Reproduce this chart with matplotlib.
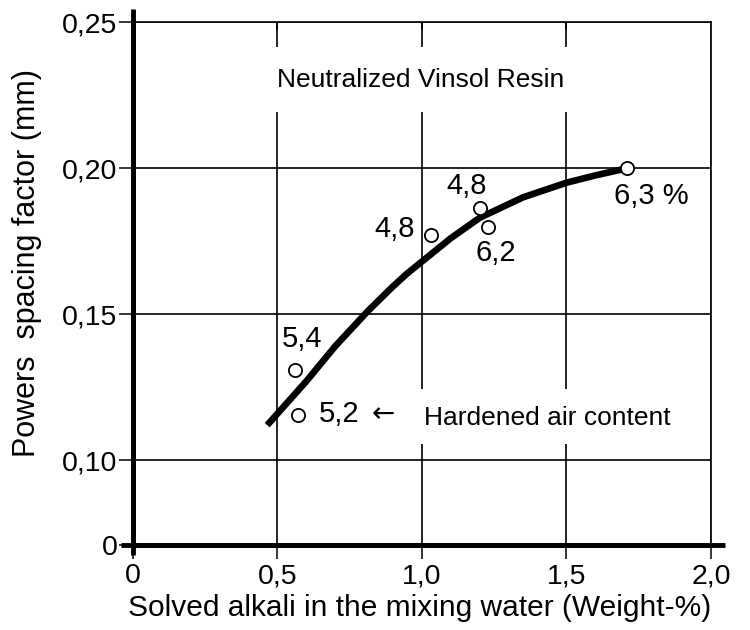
import numpy as np
import matplotlib
matplotlib.use("Agg")
import matplotlib.pyplot as plt

plt.rcParams['font.family'] = ['Liberation Sans', 'DejaVu Sans']

# fitted trend line
curve_x = [0.465, 0.60, 0.70, 0.8125, 0.90, 0.95, 1.00, 1.10, 1.20, 1.35, 1.50, 1.60, 1.69]
curve_y = [0.112, 0.127, 0.139, 0.151, 0.1595, 0.164, 0.1680, 0.1760, 0.1830, 0.1900, 0.1950, 0.1975, 0.1995]

# measured points and their hardened air content (%)
point_x = [0.56, 0.57, 1.03, 1.20, 1.23, 1.71]
point_y = [0.131, 0.1155, 0.177, 0.1865, 0.180, 0.200]
point_labels = ["5,4", "5,2", "4,8", "4,8", "6,2", "6,3 %"]
label_x = [0.587, 0.715, 0.905, 1.156, 1.257, 1.795]
label_y = [0.1415, 0.1158, 0.179, 0.1939, 0.171, 0.1905]

x_ticks = [0, 0.5, 1.0, 1.5, 2.0]
x_ticklabels = ["0", "0,5", "1,0", "1,5", "2,0"]
y_ticks = [0, 0.10, 0.15, 0.20, 0.25]
y_ticklabels = ["0", "0,10", "0,15", "0,20", "0,25"]

# broken y axis: 0..0.10 squeezed into a short band
BREAK = 0.10
SQUEEZE = 0.29
OFFSET = BREAK - SQUEEZE * BREAK


def fwd(y):
    y = np.asarray(y, dtype=float)
    return np.where(y >= BREAK, y, OFFSET + SQUEEZE * y)


def inv(t):
    t = np.asarray(t, dtype=float)
    return np.where(t >= BREAK, t, (t - OFFSET) / SQUEEZE)


fig = plt.figure(figsize=(7.5, 6.3), dpi=100)
ax = fig.add_axes([0.177, 0.135, 0.771, 0.830])
ax.set_yscale('function', functions=(fwd, inv))
ax.set_xlim(0, 2.0)
ax.set_ylim(0, 0.25)

ax.set_xticks(x_ticks)
ax.set_xticklabels(x_ticklabels)
ax.set_yticks(y_ticks)
ax.set_yticklabels(y_ticklabels)
ax.yaxis.set_minor_locator(matplotlib.ticker.NullLocator())
ax.tick_params(axis='both', direction='out', length=10, width=1.1,
               labelsize=20.5, colors='black')
ax.tick_params(axis='x', pad=3)
ax.tick_params(axis='y', pad=1)
ax.grid(True, color='black', linewidth=1.2, zorder=1)
ax.set_axisbelow(True)

for side in ['left', 'bottom']:
    ax.spines[side].set_linewidth(3.5)
for side in ['top', 'right']:
    ax.spines[side].set_linewidth(1.2)

# white bands behind the captions break the vertical grid lines
ax.axhspan(0.2193, 0.2415, xmin=0.1, xmax=0.95, color='white', lw=0, zorder=2)
ax.axhspan(0.1055, 0.1245, xmin=0.4, xmax=0.95, color='white', lw=0, zorder=2)

# small inward ticks on the top frame
top = ax.secondary_xaxis('top')
top.set_xticks(x_ticks[1:-1])
top.tick_params(direction='in', length=6, width=1.1, labeltop=False)
top.spines['top'].set_visible(False)

# thick axes run a bit past the frame
ax.plot([-0.02, 1.025], [0, 0], transform=ax.transAxes, color='black',
        linewidth=3.5, clip_on=False, solid_capstyle='butt')
ax.plot([0, 0], [-0.02, 1.025], transform=ax.transAxes, color='black',
        linewidth=3.5, clip_on=False, solid_capstyle='butt')

ax.plot(curve_x, curve_y, color='black', linewidth=4.8,
        solid_capstyle='butt', solid_joinstyle='round', zorder=3)
ax.plot(point_x, point_y, linestyle='none', marker='o', markersize=9.5,
        markerfacecolor='white', markeredgecolor='black',
        markeredgewidth=1.3, zorder=4)

for lx, ly, txt in zip(label_x, label_y, point_labels):
    ax.text(lx, ly, txt, fontsize=21, ha='center', va='center', zorder=5)

ax.text(0.868, 0.1158, "\u2190", fontsize=20, family='DejaVu Sans',
        ha='center', va='center', zorder=5)
ax.text(1.007, 0.1145, "Hardened air content", fontsize=19,
        ha='left', va='center', zorder=5)
ax.text(0.997, 0.230, "Neutralized Vinsol Resin", fontsize=19,
        ha='center', va='center', zorder=5)

fig.text(0.036, 0.582, "Powers  spacing factor (mm)", fontsize=22,
         rotation=90, ha='center', va='center')
fig.text(0.56, 0.035, "Solved alkali in the mixing water (Weight-%)",
         fontsize=21.5, ha='center', va='center')

fig.savefig("out.png", dpi=100, facecolor='white')
